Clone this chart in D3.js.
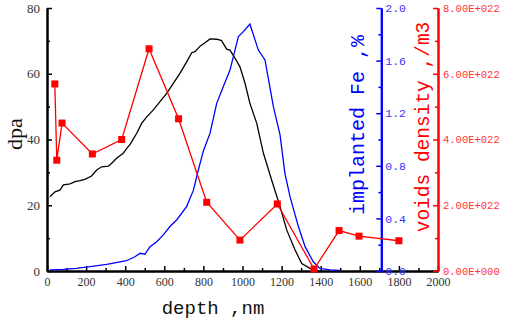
<!DOCTYPE html>
<html>
<head>
<meta charset="utf-8">
<script src="https://cdn.jsdelivr.net/npm/d3@7"></script>
<style>
  body { margin: 0; background: #fff; }
  svg { display: block; }
</style>
</head>
<body>
<div id="graph"></div>
<script>
// dpa curve (left axis)
var dpaDepth = [15, 41, 66, 84, 118, 143, 169, 194, 228, 254, 280, 314, 331, 356, 390, 408, 425, 459, 484, 510, 544, 578, 612, 646, 680, 715, 740, 757, 783, 808, 834, 868, 893, 919, 936, 962, 987, 1013, 1038, 1073, 1107, 1149, 1192, 1226, 1269, 1303, 1345, 1371, 1390];
var dpaValue = [22.6, 24.1, 24.6, 26.2, 26.5, 27.2, 27.5, 27.9, 28.9, 30.7, 31.7, 31.9, 32.8, 34.3, 35.8, 37.3, 38.5, 41.9, 44.9, 46.9, 49.0, 51.5, 54.0, 57.1, 60.1, 63.7, 66.4, 66.7, 68.4, 69.4, 70.6, 70.5, 70.1, 67.5, 67.2, 64.7, 62.1, 57.1, 51.0, 44.9, 35.8, 27.7, 19.6, 12.5, 6.4, 2.3, 0.8, 0.3, 0];

// implanted Fe (blue axis, %)
var feDepth = [15, 84, 150, 220, 305, 407, 450, 476, 501, 527, 561, 595, 629, 663, 714, 749, 774, 800, 834, 868, 902, 936, 979, 1004, 1038, 1081, 1115, 1158, 1192, 1217, 1243, 1286, 1320, 1362, 1396, 1448, 1499];
var feValue = [0.008, 0.013, 0.02, 0.033, 0.05, 0.078, 0.108, 0.135, 0.128, 0.185, 0.223, 0.275, 0.338, 0.388, 0.49, 0.615, 0.768, 0.913, 1.048, 1.275, 1.403, 1.528, 1.783, 1.82, 1.878, 1.68, 1.605, 1.25, 1.035, 0.743, 0.565, 0.338, 0.185, 0.07, 0.02, 0.008, 0.005];

// voids density (red axis, /m3)
var voidDepth = [40, 50, 77, 232, 382, 522, 673, 817, 987, 1178, 1366, 1494, 1596, 1800];
var voidValue = [5.69e22, 3.37e22, 4.50e22, 3.56e22, 4.00e22, 6.76e22, 4.63e22, 2.09e22, 0.94e22, 2.04e22, 0.06e22, 1.23e22, 1.06e22, 0.92e22];

var xTicks = [0, 200, 400, 600, 800, 1000, 1200, 1400, 1600, 1800, 2000];
var dpaTicks = [0, 20, 40, 60, 80];
var feTicks = [0, 0.4, 0.8, 1.2, 1.6, 2.0];
var voidTicks = [0, 2e22, 4e22, 6e22, 8e22];

var W = 505, H = 324;
var plotLeft = 47, plotRight = 438, plotTop = 8, plotBottom = 271;

var svg = d3.select("#graph").append("svg").attr("width", W).attr("height", H);

var x = d3.scaleLinear().domain([0, 2000]).range([plotLeft, plotRight]);
var y = d3.scaleLinear().domain([0, 80]).range([plotBottom, plotTop]);
var yFe = d3.scaleLinear().domain([0, 2]).range([plotBottom, plotTop]);
var yVoid = d3.scaleLinear().domain([0, 8e22]).range([plotBottom, plotTop]);

var serif = "'Liberation Serif', 'DejaVu Serif', serif";
var mono = "'Liberation Mono', 'DejaVu Sans Mono', monospace";
var blue = "#0000ff", red = "#ff0000";

function styleAxis(g, color, font, size, textColor) {
    g.select(".domain").attr("stroke", color).attr("stroke-width", 2);
    g.selectAll(".tick line").attr("stroke", color).attr("stroke-width", 1.5);
    g.selectAll("text").attr("fill", textColor).style("font-family", font).style("font-size", size + "px");
}

// minor ticks first
svg.append("g").attr("transform", "translate(0," + plotBottom + ")")
    .call(d3.axisBottom(x).tickValues(d3.range(100, 2000, 200)).tickSizeInner(-3).tickSizeOuter(0).tickFormat(""))
    .call(g => styleAxis(g, "#000", serif, 12, "#000"));
svg.append("g").attr("transform", "translate(" + plotLeft + ",0)")
    .call(d3.axisLeft(y).tickValues([10, 30, 50, 70]).tickSizeInner(-3).tickSizeOuter(0).tickFormat(""))
    .call(g => styleAxis(g, "#000", serif, 12, "#000"));

// bottom axis
svg.append("g").attr("transform", "translate(0," + plotBottom + ")")
    .call(d3.axisBottom(x).tickValues(xTicks).tickSizeInner(-5).tickSizeOuter(0).tickPadding(6).tickFormat(d3.format("d")))
    .call(g => styleAxis(g, "#000", serif, 12, "#333"));

// left axis
svg.append("g").attr("transform", "translate(" + plotLeft + ",0)")
    .call(d3.axisLeft(y).tickValues(dpaTicks).tickSizeInner(-5).tickSizeOuter(0).tickPadding(7).tickFormat(d3.format("d")))
    .call(g => styleAxis(g, "#000", serif, 13, "#333"));

// blue axis
var xFe = x(1710);
svg.append("g").attr("transform", "translate(" + xFe + ",0)")
    .call(d3.axisRight(yFe).tickValues(d3.range(0.2, 2, 0.4)).tickSizeInner(-3).tickSizeOuter(0).tickFormat(""))
    .call(g => styleAxis(g, blue, mono, 11, blue));
svg.append("g").attr("transform", "translate(" + xFe + ",0)")
    .call(d3.axisRight(yFe).tickValues(feTicks).tickSizeInner(-5).tickSizeOuter(0).tickPadding(4).tickFormat(d3.format(".1f")))
    .call(g => styleAxis(g, blue, mono, 11.5, "#3333ff"));

// red axis
svg.append("g").attr("transform", "translate(" + plotRight + ",0)")
    .call(d3.axisRight(yVoid).tickValues([1e22, 3e22, 5e22, 7e22]).tickSizeInner(-3).tickSizeOuter(0).tickFormat(""))
    .call(g => styleAxis(g, red, mono, 11, red));
svg.append("g").attr("transform", "translate(" + plotRight + ",0)")
    .call(d3.axisRight(yVoid).tickValues(voidTicks).tickSizeInner(-5).tickSizeOuter(0).tickPadding(5)
        .tickFormat(function (d) { return d == 0 ? "0.00E+000" : (d / 1e22).toFixed(2) + "E+022"; }))
    .call(g => styleAxis(g, red, mono, 10.5, "#ff3333"));

// curves
svg.append("path")
    .datum(d3.zip(dpaDepth, dpaValue))
    .attr("fill", "none").attr("stroke", "#000").attr("stroke-width", 1.3)
    .attr("d", d3.line().x(d => x(d[0])).y(d => y(d[1])));

svg.append("path")
    .datum(d3.zip(feDepth, feValue))
    .attr("fill", "none").attr("stroke", blue).attr("stroke-width", 1.3)
    .attr("d", d3.line().x(d => x(d[0])).y(d => yFe(d[1])));

var voids = d3.zip(voidDepth, voidValue);
svg.append("path")
    .datum(voids)
    .attr("fill", "none").attr("stroke", red).attr("stroke-width", 1.3)
    .attr("d", d3.line().x(d => x(d[0])).y(d => yVoid(d[1])));

svg.selectAll("rect.marker")
    .data(voids)
    .enter()
    .append("rect")
    .attr("class", "marker")
    .attr("x", d => x(d[0]) - 3.5).attr("y", d => yVoid(d[1]) - 3.5)
    .attr("width", 7).attr("height", 7)
    .attr("fill", red);

// axis titles
svg.append("text").text("dpa")
    .attr("transform", "translate(22,134) rotate(-90)")
    .attr("text-anchor", "middle")
    .style("font-family", serif).style("font-size", "22px").attr("fill", "#111");

svg.append("text").text("depth ,nm")
    .attr("x", 213).attr("y", 314)
    .attr("text-anchor", "middle")
    .style("font-family", mono).style("font-size", "19px").attr("fill", "#111");

svg.append("text").text("implanted Fe ,%")
    .attr("transform", "translate(364,125) rotate(-90)")
    .attr("text-anchor", "middle")
    .style("font-family", mono).style("font-size", "20px").attr("fill", blue);

svg.append("text").text("voids density ,/m3")
    .attr("transform", "translate(429,127) rotate(-90)")
    .attr("text-anchor", "middle")
    .style("font-family", mono).style("font-size", "19.5px").attr("fill", red);
</script>
</body>
</html>
